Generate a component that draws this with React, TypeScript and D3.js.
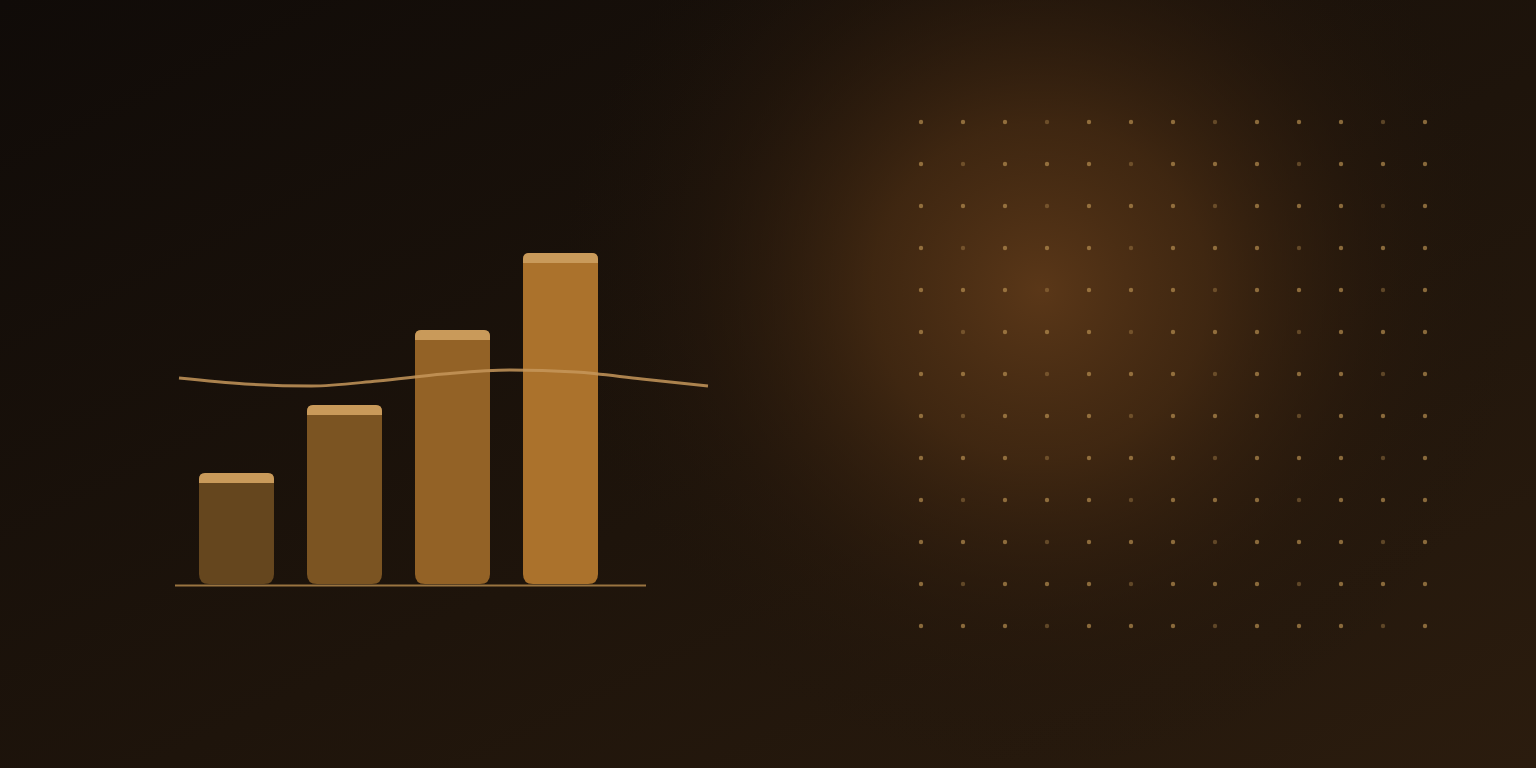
import React, { useEffect, useRef } from 'react';
import * as d3 from 'd3';

// bars (heights in chart units)
const categories = ['Q1', 'Q2', 'Q3', 'Q4'];
const barValues = [111, 179, 254, 331];
const barColors = ['#65461e', '#7b5422', '#936226', '#ab722c'];

// smooth trend line, same units as bars
const trendValues = [206, 200, 198, 203, 210, 214, 212, 205, 198];

// decorative dot grid
const dotCols = d3.range(13);
const dotRows = d3.range(13);

const W = 1536;
const H = 768;

const App = () => {
  const ref = useRef<SVGSVGElement | null>(null);

  useEffect(() => {
    const svg = d3.select(ref.current);
    svg.selectAll('*').remove();

    const defs = svg.append('defs');

    const bg = defs.append('linearGradient').attr('id', 'bg')
      .attr('x1', 0).attr('y1', 0).attr('x2', 1).attr('y2', 1);
    bg.append('stop').attr('offset', '0%').attr('stop-color', '#100b08');
    bg.append('stop').attr('offset', '55%').attr('stop-color', '#1e140b');
    bg.append('stop').attr('offset', '100%').attr('stop-color', '#2b1c0e');

    const glow = defs.append('radialGradient').attr('id', 'glow')
      .attr('gradientUnits', 'userSpaceOnUse')
      .attr('cx', 1040).attr('cy', 290).attr('r', 480);
    glow.append('stop').attr('offset', '0%').attr('stop-color', '#5a3718').attr('stop-opacity', 1);
    glow.append('stop').attr('offset', '35%').attr('stop-color', '#4a2d13').attr('stop-opacity', 0.75);
    glow.append('stop').attr('offset', '70%').attr('stop-color', '#2e1c0d').attr('stop-opacity', 0.35);
    glow.append('stop').attr('offset', '100%').attr('stop-color', '#1e140b').attr('stop-opacity', 0);

    svg.append('rect').attr('width', W).attr('height', H).attr('fill', 'url(#bg)');
    svg.append('rect').attr('width', W).attr('height', H).attr('fill', 'url(#glow)');

    // dot grid
    const dx = d3.scaleLinear().domain([0, 12]).range([921, 1425]);
    const dy = d3.scaleLinear().domain([0, 12]).range([122, 626]);
    const cells = dotRows.flatMap((r) => dotCols.map((c) => ({ r, c })));
    svg.append('g').selectAll('circle')
      .data(cells)
      .enter()
      .append('circle')
      .attr('cx', (d) => dx(d.c))
      .attr('cy', (d) => dy(d.r))
      .attr('r', 2.2)
      .attr('fill', '#b58d50')
      .attr('opacity', (d) => ((d.c * 3 + d.r * 2) % 4 === 1 ? 0.4 : 0.7));

    // bars
    const baseline = 584;
    const x = d3.scaleBand().domain(categories).range([199, 598]).paddingInner(0.3056).paddingOuter(0);
    const y = d3.scaleLinear().domain([0, 331]).range([baseline, 253]);

    const roundBar = (x0: number, y0: number, w: number, h: number, rt: number, rb: number) => {
      const p = d3.path();
      p.moveTo(x0 + rt, y0);
      p.lineTo(x0 + w - rt, y0);
      p.quadraticCurveTo(x0 + w, y0, x0 + w, y0 + rt);
      p.lineTo(x0 + w, y0 + h - rb);
      p.quadraticCurveTo(x0 + w, y0 + h, x0 + w - rb, y0 + h);
      p.lineTo(x0 + rb, y0 + h);
      p.quadraticCurveTo(x0, y0 + h, x0, y0 + h - rb);
      p.lineTo(x0, y0 + rt);
      p.quadraticCurveTo(x0, y0, x0 + rt, y0);
      p.closePath();
      return p.toString();
    };

    const bars = svg.append('g');
    bars.selectAll('path.bar')
      .data(barValues)
      .enter()
      .append('path')
      .attr('class', 'bar')
      .attr('d', (d, i) => roundBar(x(categories[i]), y(d), x.bandwidth(), baseline - y(d), 7, 10))
      .attr('fill', (d, i) => barColors[i]);

    bars.selectAll('path.cap')
      .data(barValues)
      .enter()
      .append('path')
      .attr('class', 'cap')
      .attr('d', (d, i) => roundBar(x(categories[i]), y(d), x.bandwidth(), 10, 6, 0))
      .attr('fill', '#c99a5a');

    // base line
    svg.append('line')
      .attr('x1', 175).attr('x2', 646)
      .attr('y1', baseline + 1.5).attr('y2', baseline + 1.5)
      .attr('stroke', '#9a7440').attr('stroke-width', 2);

    // trend line
    const tx = d3.scaleLinear().domain([0, trendValues.length - 1]).range([179, 708]);
    const line = d3.line<number>()
      .x((d, i) => tx(i))
      .y((d) => y(d))
      .curve(d3.curveMonotoneX);
    svg.append('path')
      .datum(trendValues)
      .attr('d', line)
      .attr('fill', 'none')
      .attr('stroke', '#c6965a')
      .attr('stroke-opacity', 0.85)
      .attr('stroke-width', 3);
  }, []);

  return (
    <svg
      ref={ref}
      width={W}
      height={H}
      style={{ position: 'fixed', left: 0, top: 0, display: 'block' }}
    />
  );
};

export default App;
